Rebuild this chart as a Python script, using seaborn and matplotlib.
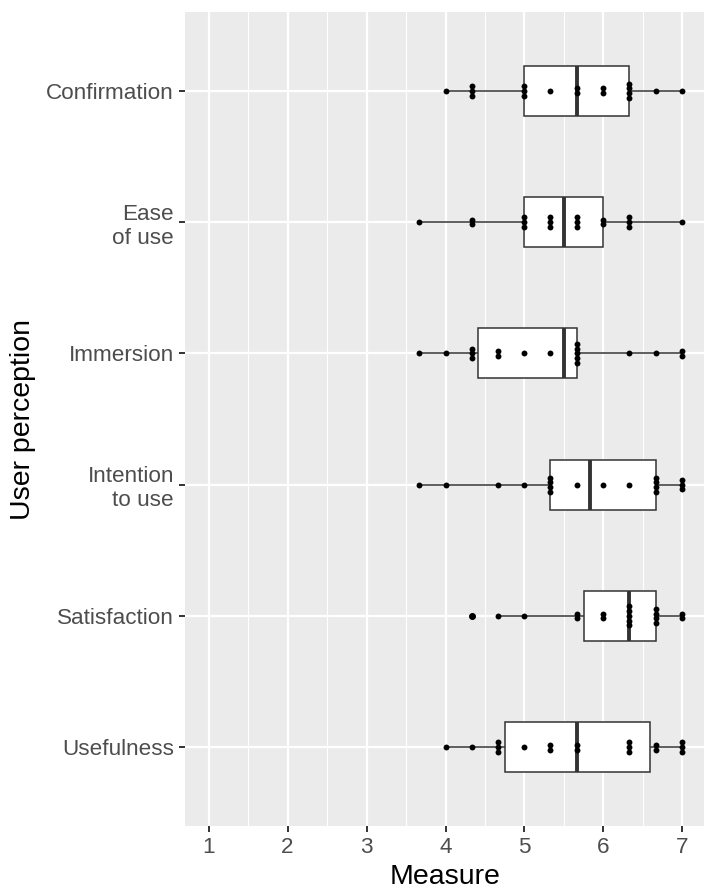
import matplotlib
matplotlib.use("Agg")
import matplotlib.pyplot as plt
import seaborn as sns
import pandas as pd
import numpy as np
from matplotlib.ticker import MultipleLocator

# user perception categories (top to bottom)
perceptions = ['Confirmation', 'Ease\nof use', 'Immersion',
               'Intention\nto use', 'Satisfaction', 'Usefulness']

# per-participant mean scores (1-7 scale, 18 participants)
confirmation = [4.0, 4.33, 4.33, 4.33, 5.0, 5.0, 5.0, 5.33, 5.67, 5.67,
                6.0, 6.0, 6.33, 6.33, 6.33, 6.33, 6.67, 7.0]
ease_of_use = [3.67, 4.33, 4.33, 5.0, 5.0, 5.0, 5.33, 5.33, 5.33, 5.67,
               5.67, 5.67, 6.0, 6.0, 6.33, 6.33, 6.33, 7.0]
immersion = [3.67, 4.0, 4.33, 4.33, 4.33, 4.67, 4.67, 5.0, 5.33, 5.67,
             5.67, 5.67, 5.67, 5.67, 6.33, 6.67, 7.0, 7.0]
intention_to_use = [3.67, 4.0, 4.67, 5.0, 5.33, 5.33, 5.33, 5.33, 5.67, 6.0,
                    6.33, 6.67, 6.67, 6.67, 6.67, 7.0, 7.0, 7.0]
satisfaction = [4.33, 4.67, 5.0, 5.67, 5.67, 6.0, 6.0, 6.33, 6.33, 6.33,
                6.33, 6.33, 6.67, 6.67, 6.67, 6.67, 7.0, 7.0]
usefulness = [4.0, 4.33, 4.67, 4.67, 4.67, 5.0, 5.33, 5.33, 5.67, 5.67,
              6.33, 6.33, 6.33, 6.67, 6.67, 7.0, 7.0, 7.0]

x_ticks = [1, 2, 3, 4, 5, 6, 7]

scores = [confirmation, ease_of_use, immersion, intention_to_use, satisfaction, usefulness]
df = pd.DataFrame({
    'perception': np.repeat(perceptions, [len(s) for s in scores]),
    'measure': np.concatenate(scores),
})

sns.set_theme(style='darkgrid')
plt.rcParams['font.family'] = ['Liberation Sans', 'DejaVu Sans']
plt.rcParams['axes.facecolor'] = '#EBEBEB'
plt.rcParams['grid.color'] = 'white'

fig = plt.figure(figsize=(7.04, 8.93), dpi=100)
ax = fig.add_axes([185 / 704, 67 / 893, 521 / 704, 814 / 893])

sns.boxplot(data=df, x='measure', y='perception', order=perceptions,
            width=0.38, color='white', saturation=1, linecolor='#333333',
            linewidth=1.1, showcaps=False, whis=1.5,
            medianprops=dict(linewidth=2.8, color='#333333'),
            flierprops=dict(marker='o', markersize=4.0, markerfacecolor='black',
                            markeredgecolor='black'),
            ax=ax, zorder=2)

# centred dot stacks (like a dotplot)
step = 0.036
dx, dy = [], []
for i, s in enumerate(scores):
    vals, counts = np.unique(s, return_counts=True)
    for v, k in zip(vals, counts):
        for j in range(k):
            dx.append(v)
            dy.append(i + (j - (k - 1) / 2) * step)
ax.scatter(dx, dy, s=18, color='black', linewidths=0, zorder=4)

ax.set_xlim(0.7, 7.3)
ax.set_ylim(len(perceptions) - 0.4, -0.6)
ax.set_xticks(x_ticks)
ax.xaxis.set_minor_locator(MultipleLocator(0.5))
ax.grid(which='major', color='white', linewidth=1.6)
ax.grid(which='minor', axis='x', color='white', linewidth=0.8)
ax.set_axisbelow(True)
for sp in ax.spines.values():
    sp.set_visible(False)

ax.tick_params(axis='both', which='major', length=4, width=1.4, color='#333333',
               labelcolor='#4D4D4D', labelsize=16.2, pad=4, left=True, bottom=True)
ax.tick_params(axis='both', which='minor', length=0)
ax.set_xlabel('Measure', fontsize=20.5, color='black', labelpad=4)
ax.set_ylabel('User perception', fontsize=20.5, color='black', labelpad=7)

fig.savefig('out.png', dpi=100)
